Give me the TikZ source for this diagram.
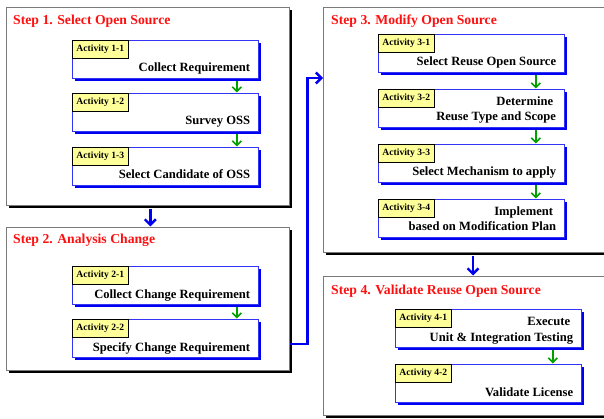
\documentclass[tikz,border=0pt]{standalone}
\usepackage{fontspec}
\setmainfont{Liberation Serif}
\usetikzlibrary{shadows,calc,arrows.meta}
\definecolor{labelyellow}{HTML}{FFFF99}
\definecolor{flowblue}{HTML}{0000F0}
\definecolor{flowgreen}{HTML}{00A000}
\definecolor{framegray}{HTML}{7A7A7A}
\definecolor{steprd}{HTML}{FF1010}
\tikzset{
  stepbox/.style={draw=framegray, line width=0.7pt, fill=white, anchor=north west,
    inner sep=0pt, drop shadow={shadow xshift=3pt, shadow yshift=-3pt, fill=black, opacity=1}},
  actbox/.style={draw=flowblue!80, line width=0.8pt, fill=white, anchor=north west,
    inner sep=0pt, minimum width=186pt, minimum height=38pt,
    drop shadow={shadow xshift=3pt, shadow yshift=-3pt, fill=flowblue, opacity=1}},
  acttag/.style={draw=black, line width=0.6pt, fill=labelyellow, anchor=north west,
    inner sep=0pt, minimum width=56pt, minimum height=18pt,
    font=\bfseries\fontsize{9.6}{11}\selectfont},
  acttext/.style={anchor=base east, inner sep=0pt,
    font=\bfseries\fontsize{12.6}{15.5}\selectfont},
  steptitle/.style={anchor=base west, inner sep=0pt, text=steprd,
    font=\bfseries\fontsize{13.7}{16}\selectfont},
  greenflow/.style={draw=flowgreen, line width=1.6pt,
    -{Straight Barb[length=4.5pt,width=9pt,line width=1.6pt]}},
  blueflow/.style={draw=flowblue, line width=2.6pt,
    -{Straight Barb[length=5.5pt,width=11pt,line width=2.4pt]}},
}
\newcommand{\twolines}[2]{\begin{tabular}[b]{@{}r@{}}#1\hspace*{3pt}\\#2\end{tabular}}
\begin{document}
\begin{tikzpicture}[x=1pt,y=-1pt]
\useasboundingbox (0,0) rectangle (604,419);
\fill[white] (0,0) rectangle (604,419);

% phase frames
\node[stepbox, minimum width=283pt, minimum height=198pt] (s1) at (6,7) {};
\node[stepbox, minimum width=283pt, minimum height=143pt] (s2) at (6,227) {};
\node[stepbox, minimum width=290pt, minimum height=245pt] (s3) at (323,7) {};
\node[stepbox, minimum width=290pt, minimum height=139pt] (s4) at (323,276) {};

\node[steptitle] (t1) at (13,25) {Step 1. Select Open Source};
\node[steptitle] (t2) at (13,244) {Step 2. Analysis Change};
\node[steptitle] (t3) at (331,25) {Step 3. Modify Open Source};
\node[steptitle] (t4) at (331,294) {Step 4. Validate Reuse Open Source};

% activities
\foreach \n/\x/\y/\tag/\txt in {
  a11/72/40/Activity 1-1/Collect Requirement,
  a12/72/93/Activity 1-2/Survey OSS,
  a13/72/147/Activity 1-3/Select Candidate of OSS,
  a21/72/266/Activity 2-1/Collect Change Requirement,
  a22/72/319/Activity 2-2/Specify Change Requirement,
  a31/378/34/Activity 3-1/Select Reuse Open Source,
  a32/378/89/Activity 3-2/{\twolines{Determine}{Reuse Type and Scope}},
  a33/378/144/Activity 3-3/Select Mechanism to apply,
  a34/378/199/Activity 3-4/{\twolines{Implement}{based on Modification Plan}},
  a41/395/309/Activity 4-1/{\twolines{Execute}{Unit \& Integration Testing}},
  a42/395/364/Activity 4-2/Validate License}{
  \node[actbox] (\n) at (\x,\y) {};
  \node[acttag] (\n tag) at (\n.north west) {\tag};
  \node[acttext] (\n txt) at ($(\n.north east)+(-8.5,32)$) {\txt};
}

% flow inside each phase
\foreach \a/\b/\d in {a11/a12/22, a12/a13/22, a21/a22/22, a31/a32/29, a32/a33/29, a33/a34/29, a41/a42/29}{
  \draw[greenflow] ($(\a.south east)+(-\d,2.5)$) -- ($(\b.north east)+(-\d,-0.5)$);
}

% flow between phases
\draw[blueflow] ($(s1.south)+(2.5,3)$) -- ($(s2.north)+(2.5,-0.5)$);
\coordinate (s2out) at ($(s2.north east)+(0,117)$);
\coordinate (s3in) at ($(s3.north west)+(0,71)$);
\draw[blueflow] (s2out) -- ++(18,0) |- (s3in);
\draw[blueflow] ($(s3.south west)+(150,3)$) -- ($(s4.north west)+(150,-0.5)$);
\end{tikzpicture}
\end{document}
